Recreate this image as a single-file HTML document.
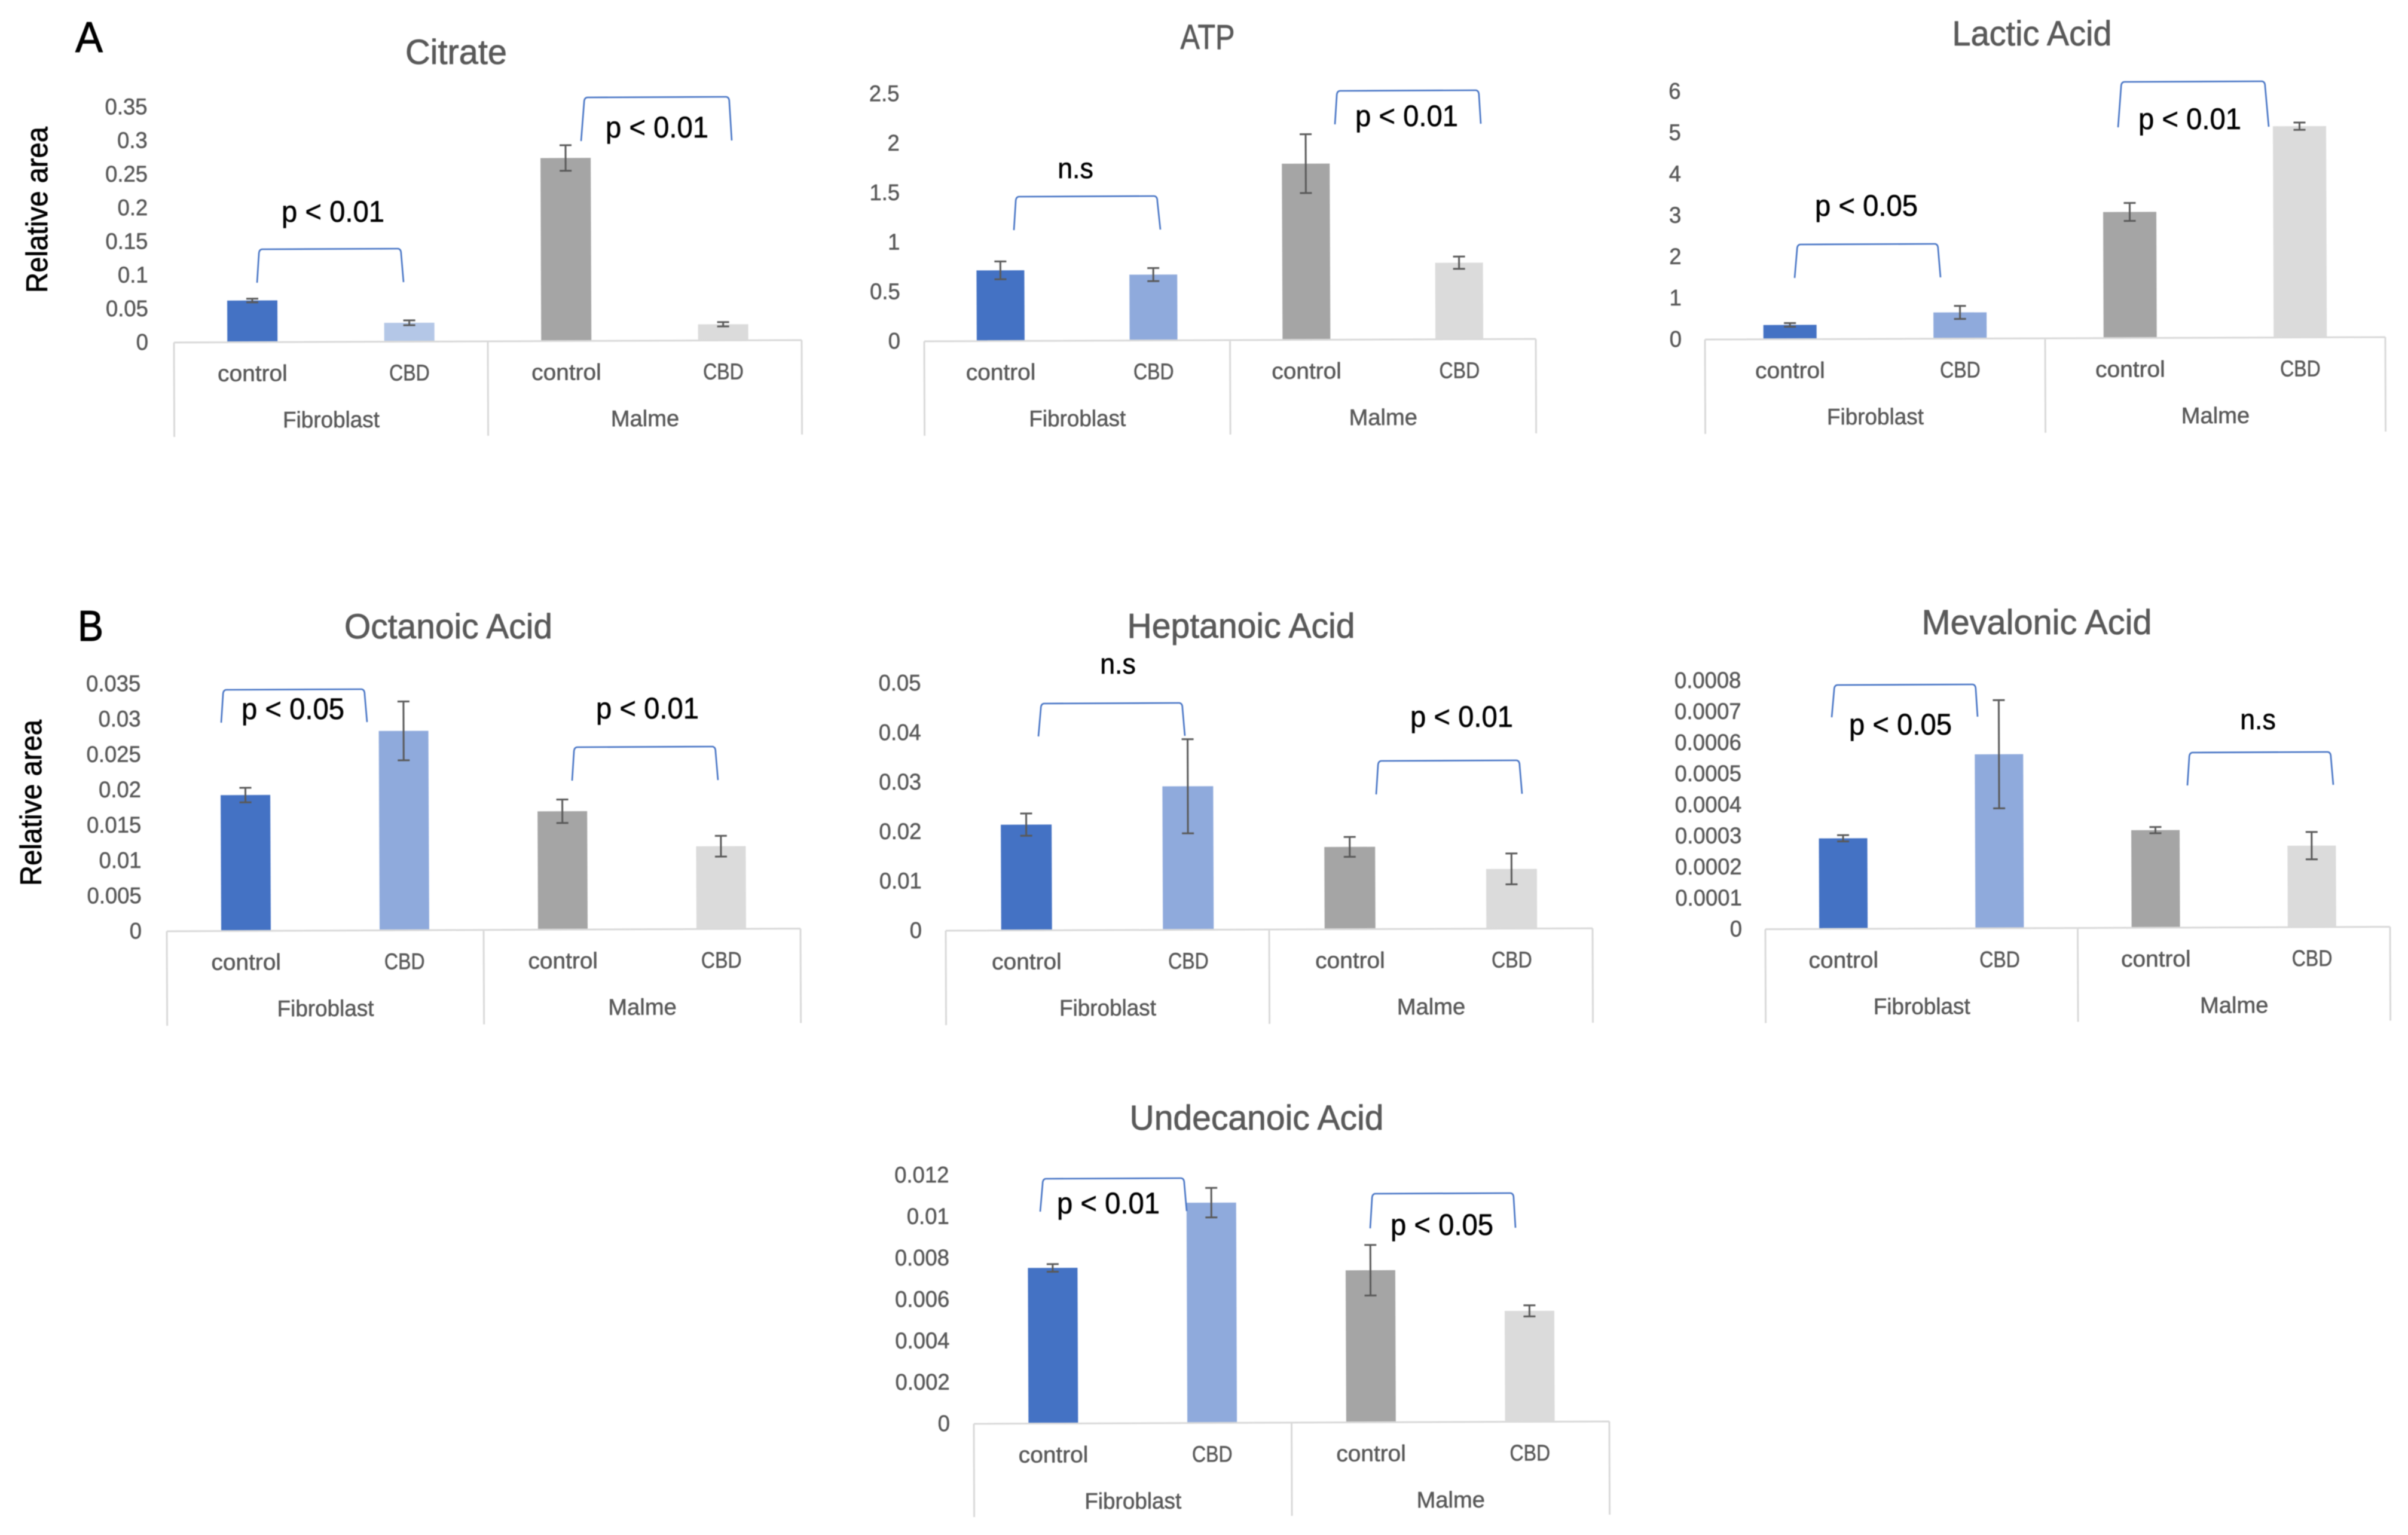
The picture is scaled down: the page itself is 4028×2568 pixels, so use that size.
<!DOCTYPE html>
<html lang="en">
<head>
<meta charset="utf-8">
<title>Relative area bar charts</title>
<style>
html,body{margin:0;padding:0;background:#fff}
svg{display:block;filter:blur(0.8px)}
text{font-family:"Liberation Sans",Arial,sans-serif;stroke-linejoin:round}
.title{font-size:58px;fill:#595959;stroke:#595959;stroke-width:.8px;text-anchor:middle}
.letter{font-size:72px;fill:#000;stroke:#000;stroke-width:1px}
.ytitle{font-size:50px;fill:#000;stroke:#000;stroke-width:.8px;text-anchor:middle}
</style>
</head>
<body>
<svg id="figure" xmlns="http://www.w3.org/2000/svg" width="4028" height="2568" viewBox="0 0 4028 2568">
  <rect x="0" y="0" width="4028" height="2568" fill="#ffffff"/>
  <text class="letter" x="126" y="87" textLength="46" lengthAdjust="spacingAndGlyphs">A</text>
  <text class="letter" x="130" y="1072" textLength="43" lengthAdjust="spacingAndGlyphs">B</text>
  <text class="ytitle" transform="translate(79,351) rotate(-90)" textLength="278" lengthAdjust="spacingAndGlyphs">Relative area</text>
  <text class="ytitle" transform="translate(69,1343) rotate(-90)" textLength="278" lengthAdjust="spacingAndGlyphs">Relative area</text>
  <text class="title" x="763" y="107" textLength="170" lengthAdjust="spacingAndGlyphs">Citrate</text>
  <text class="title" x="2020" y="82" textLength="91" lengthAdjust="spacingAndGlyphs">ATP</text>
  <text class="title" x="3399" y="76" textLength="267" lengthAdjust="spacingAndGlyphs">Lactic Acid</text>
  <text class="title" x="750" y="1068" textLength="348" lengthAdjust="spacingAndGlyphs">Octanoic Acid</text>
  <text class="title" x="2076" y="1067" textLength="381" lengthAdjust="spacingAndGlyphs">Heptanoic Acid</text>
  <text class="title" x="3407" y="1061" textLength="385" lengthAdjust="spacingAndGlyphs">Mevalonic Acid</text>
  <text class="title" x="2102" y="1890" textLength="425" lengthAdjust="spacingAndGlyphs">Undecanoic Acid</text>
</svg>
<script>
// ---- chart data ----
const categories = ['control', 'CBD', 'control', 'CBD'];
const groups = ['Fibroblast', 'Malme'];

const citrateValues = [0.062, 0.028, 0.272, 0.024];
const citrateErrors = [0.0027, 0.0036, 0.019, 0.0032];
const citrateTicks = ['0', '0.05', '0.1', '0.15', '0.2', '0.25', '0.3', '0.35'];

const atpValues = [0.714, 0.665, 1.78, 0.773];
const atpErrors = [0.09, 0.066, 0.297, 0.062];
const atpTicks = ['0', '0.5', '1', '1.5', '2', '2.5'];

const lacticValues = [0.346, 0.634, 3.05, 5.11];
const lacticErrors = [0.044, 0.158, 0.217, 0.088];
const lacticTicks = ['0', '1', '2', '3', '4', '5', '6'];

const octanoicValues = [0.01922, 0.0282, 0.01674, 0.0117];
const octanoicErrors = [0.00103, 0.00416, 0.00166, 0.00147];
const octanoicTicks = ['0', '0.005', '0.01', '0.015', '0.02', '0.025', '0.03', '0.035'];

const heptanoicValues = [0.02137, 0.029, 0.01663, 0.01206];
const heptanoicErrors = [0.00225, 0.00951, 0.00201, 0.00312];
const heptanoicTicks = ['0', '0.01', '0.02', '0.03', '0.04', '0.05'];

const mevalonicValues = [0.0002915, 0.00056, 0.000314, 0.000262];
const mevalonicErrors = [0.00001, 0.000174, 0.00001, 0.000044];
const mevalonicTicks = ['0', '0.0001', '0.0002', '0.0003', '0.0004', '0.0005', '0.0006', '0.0007', '0.0008'];

const undecanoicValues = [0.00751, 0.01063, 0.00734, 0.00535];
const undecanoicErrors = [0.000184, 0.000713, 0.00122, 0.000268];
const undecanoicTicks = ['0', '0.002', '0.004', '0.006', '0.008', '0.01', '0.012'];

// ---- presentation ----
const barColors = ['#4472c4', '#8faadc', '#a5a5a5', '#dbdbdb'];
const citrateColors = ['#4472c4', '#b4c7e7', '#a5a5a5', '#dbdbdb'];

const charts = [
  {key:'citrate', values:citrateValues, errors:citrateErrors, ticks:citrateTicks, colors:citrateColors,
   left:291, top:573, right:1341, topR:569, plotH:394, tickX:248, barW:84, drop:158,
   notes:[{x:[430,433,671,675], yT:417, yB:473, label:'p < 0.01', lx:557, ly:371},
          {x:[972,977,1220,1224], yT:163, yB:236, label:'p < 0.01', lx:1099, ly:230}]},
  {key:'atp', values:atpValues, errors:atpErrors, ticks:atpTicks, colors:barColors,
   left:1546, top:571, right:2569, topR:567, plotH:414, tickX:1506, barW:80, drop:158,
   notes:[{x:[1696,1699,1936,1941], yT:329, yB:385, label:'n.s', lx:1799, ly:298},
          {x:[2233,2236,2474,2477], yT:152, yB:208, label:'p < 0.01', lx:2353, ly:211}]},
  {key:'lactic-acid', values:lacticValues, errors:lacticErrors, ticks:lacticTicks, colors:barColors,
   left:2852, top:568, right:3990, topR:564, plotH:415, tickX:2813, barW:89, drop:158,
   notes:[{x:[3002,3006,3242,3246], yT:409, yB:465, label:'p < 0.05', lx:3122, ly:361},
          {x:[3543,3548,3789,3795], yT:137, yB:213, label:'p < 0.01', lx:3663, ly:216}]},
  {key:'octanoic-acid', values:octanoicValues, errors:octanoicErrors, ticks:octanoicTicks, colors:barColors,
   left:279, top:1558, right:1339, topR:1553.5, plotH:414, tickX:237, barW:83, drop:158,
   notes:[{x:[370,373,610,614], yT:1154, yB:1209, label:'p < 0.05', lx:490, ly:1203},
          {x:[957,960,1197,1201], yT:1250, yB:1306, label:'p < 0.01', lx:1083, ly:1202}]},
  {key:'heptanoic-acid', values:heptanoicValues, errors:heptanoicErrors, ticks:heptanoicTicks, colors:barColors,
   left:1582, top:1557, right:2664, topR:1553, plotH:414, tickX:1542, barW:85, drop:158,
   notes:[{x:[1737,1741,1978,1982], yT:1177, yB:1232, label:'n.s', lx:1870, ly:1127},
          {x:[2302,2305,2542,2546], yT:1273, yB:1329, label:'p < 0.01', lx:2445, ly:1216}]},
  {key:'mevalonic-acid', values:mevalonicValues, errors:mevalonicErrors, ticks:mevalonicTicks, colors:barColors,
   left:2953, top:1554.5, right:3998, topR:1550.5, plotH:416, tickX:2914, barW:81, drop:157,
   notes:[{x:[3064,3068,3305,3308], yT:1146, yB:1200, label:'p < 0.05', lx:3179, ly:1229},
          {x:[3659,3662,3899,3903], yT:1259, yB:1314, label:'n.s', lx:3777, ly:1220}]},
  {key:'undecanoic-acid', values:undecanoicValues, errors:undecanoicErrors, ticks:undecanoicTicks, colors:barColors,
   left:1629, top:2382, right:2692, topR:2378, plotH:416, tickX:1589, barW:83, drop:156,
   notes:[{x:[1740,1744,1981,1985], yT:1972, yB:2027, label:'p < 0.01', lx:1854, ly:2030},
          {x:[2292,2295,2532,2535], yT:1997, yB:2055, label:'p < 0.05', lx:2412, ly:2066}]}
];

const SVG_NS = document.getElementById('figure').namespaceURI;
const figure = document.getElementById('figure');

// Em widths of the narrow humanist face in the reference, used to fit each label's advance.
const EM = {c:.423,o:.527,n:.525,t:.335,r:.349,l:.229,C:.533,B:.544,D:.615,F:.459,i:.229,b:.525,a:.479,s:.391,M:.855,m:.799,e:.498,p:.525,' ':.226,'<':.498,'.':.252};
function emWidth(str) {
  let w = 0;
  for (const ch of str) w += (EM[ch] !== undefined ? EM[ch] : .507);
  return w;
}
function make(parent, tag, attrs) {
  const node = document.createElementNS(SVG_NS, tag);
  for (const k in attrs) node.setAttribute(k, attrs[k]);
  parent.appendChild(node);
  return node;
}
function label(parent, str, x, y, size, fill, anchor) {
  const node = make(parent, 'text', {x:x, y:y, fill:fill, stroke:fill, 'stroke-width':0.6, 'text-anchor':anchor, 'font-size':size * 0.95,
    textLength:(emWidth(str) * size).toFixed(1), lengthAdjust:'spacingAndGlyphs'});
  node.textContent = str;
  return node;
}

charts.forEach(function (c) {
  const dx = c.right - c.left, dy = c.topR - c.top;
  const W = Math.hypot(dx, dy);
  const angle = Math.atan2(dy, dx) * 180 / Math.PI;
  const maxTick = parseFloat(c.ticks[c.ticks.length - 1]);
  const yScale = function (v) { return -v / maxTick * c.plotH; };
  const xScale = function (i) { return W * (2 * i + 1) / 8; };

  const g = make(figure, 'g', {transform:'translate(' + c.left + ',' + c.top + ') rotate(' + angle.toFixed(3) + ')'});
  
  

  // y-axis tick labels
  c.ticks.forEach(function (t) {
    const tick = label(g, t, c.tickX - c.left, yScale(parseFloat(t)) + 12, 40, '#595959', 'end');
    
    
  });

  // bars
  c.values.forEach(function (v, i) {
    const bar = make(g, 'rect', {x:xScale(i) - c.barW / 2, y:yScale(v), width:c.barW, height:-yScale(v), fill:c.colors[i]});
    
    
  });

  // category axis lines
  const axis = make(g, 'path', {d:'M0 0H' + W + 'M0 0V' + c.drop + 'M' + W / 2 + ' 0V' + c.drop + 'M' + W + ' 0V' + c.drop,
    fill:'none', stroke:'#d9d9d9', 'stroke-width':3});
  
  

  // error bars
  c.errors.forEach(function (e, i) {
    const v = c.values[i], cx = xScale(i), yHi = yScale(v + e), yLo = yScale(v - e);
    const err = make(g, 'path', {d:'M' + (cx - 10) + ' ' + yHi + 'H' + (cx + 10) + 'M' + cx + ' ' + yHi + 'V' + yLo + 'M' + (cx - 10) + ' ' + yLo + 'H' + (cx + 10),
      fill:'none', stroke:'#595959', 'stroke-width':3});
    
    
  });

  // category and group labels
  categories.forEach(function (name, i) {
    const cat = label(g, name, xScale(i), 65, 40, '#595959', 'middle');
    
    
  });
  groups.forEach(function (name, i) {
    const grp = label(g, name, W * (2 * i + 1) / 4, 143, 40, '#595959', 'middle');
    
    
  });

  // significance brackets and labels
  c.notes.forEach(function (n) {
    const b = make(figure, 'path', {d:'M' + n.x[0] + ' ' + n.yB + 'L' + n.x[1] + ' ' + (n.yT + 9) + 'Q' + n.x[1] + ' ' + n.yT + ' ' + (n.x[1] + 6) + ' ' + n.yT +
      'L' + (n.x[2] - 6) + ' ' + (n.yT - 1) + 'Q' + n.x[2] + ' ' + (n.yT - 1) + ' ' + n.x[2] + ' ' + (n.yT + 8) + 'L' + n.x[3] + ' ' + (n.yB - 1),
      fill:'none', stroke:'#4472c4', 'stroke-width':2.6});
    
    
    const t = label(figure, n.label, n.lx, n.ly, n.label === 'n.s' ? 51 : 53, '#000000', 'middle');
    
    
  });
});
</script>
</body>
</html>
